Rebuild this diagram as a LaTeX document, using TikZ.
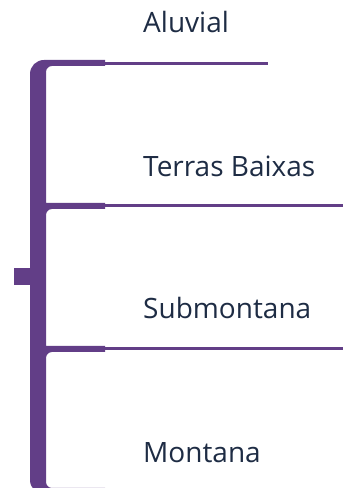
\documentclass[tikz,border=0pt]{standalone}
\usepackage{fontspec}
\setmainfont{Open Sans}
\usepackage{tikz}
\usetikzlibrary{calc}
\usetikzlibrary{positioning}

\definecolor{bracketpurple}{RGB}{98,62,135}
\definecolor{labelnavy}{RGB}{30,44,68}

\tikzset{
    label text/.style={anchor=base west, inner sep=0pt, text=labelnavy,
        font=\fontsize{28}{32}\selectfont},
    arm line/.style={bracketpurple, line width=3pt},
}

\begin{document}
\begin{tikzpicture}[x=1pt, y=1pt]
    \useasboundingbox (0,0) rectangle (343,488);
    \clip (0,0) rectangle (343,488);

    \fill[bracketpurple] (105,428) -- (44,428) arc[start angle=90, end angle=180, radius=14]
        -- (30,8) arc[start angle=180, end angle=270, radius=14] -- (105,-6) -- (105,0)
        -- (52,0) arc[start angle=270, end angle=180, radius=6] -- (46,130)
        arc[start angle=180, end angle=90, radius=6] -- (105,136) -- (105,142) -- (46,142)
        -- (46,273) arc[start angle=180, end angle=90, radius=6] -- (105,279) -- (105,285)
        -- (46,285) -- (46,416) arc[start angle=180, end angle=90, radius=6] -- (105,422)
        -- cycle;
    \fill[bracketpurple] (14,203) rectangle (30,220);

    \coordinate (arm1) at (104,424.5);
    \coordinate (arm2) at (104,282.5);
    \coordinate (arm3) at (104,139.5);
    \coordinate (end1) at (268,424.5);
    \coordinate (end2) at (343,282.5);
    \coordinate (end3) at (343,139.5);

    \draw[arm line] (arm1) -- (end1);
    \draw[arm line] (arm2) -- (end2);
    \draw[arm line] (arm3) -- (end3);

    \node[label text] (aluvial) at (143,455) {Aluvial};
    \node[label text] (terras) at (143,311) {Terras Baixas};
    \node[label text] (submontana) at (143,169) {Submontana};
    \node[label text] (montana) at (143,26) {Montana};
\end{tikzpicture}
\end{document}
